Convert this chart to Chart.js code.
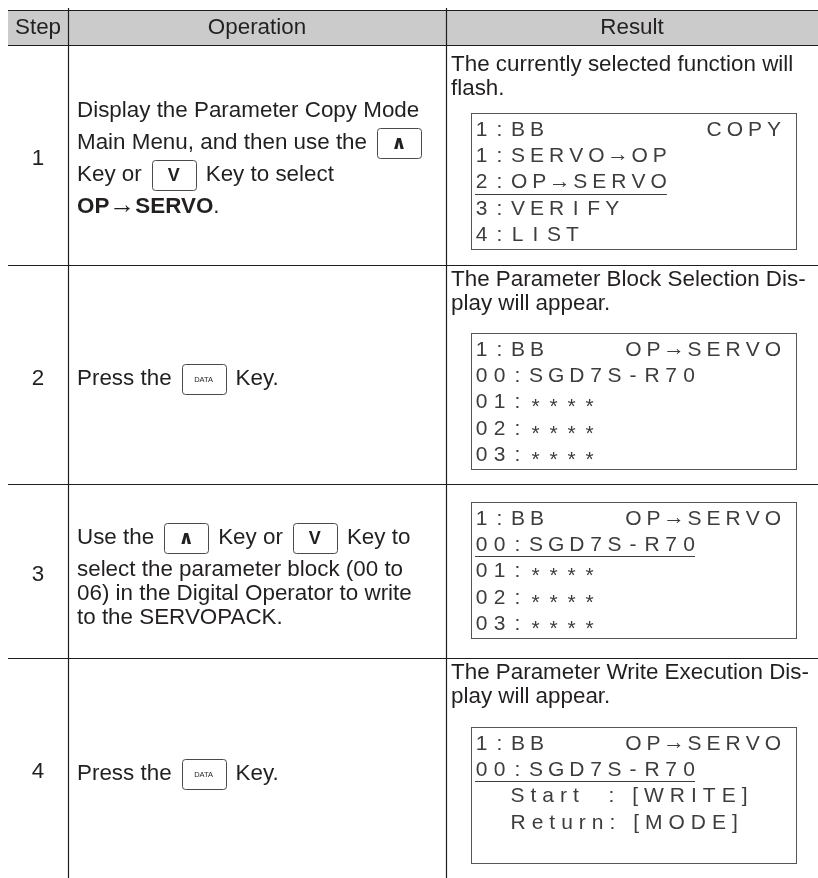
<!DOCTYPE html>
<html>
<head>
<meta charset="utf-8">
<script src="https://cdn.jsdelivr.net/npm/chart.js@4.4.1/dist/chart.umd.min.js"></script>
<style>
html,body{margin:0;padding:0;background:#ffffff;}
canvas{display:block;}
</style>
</head>
<body>
<canvas id="c" width="818" height="878"></canvas>
<script>
// ---------- content ----------
const headers = ["Step", "Operation", "Result"];
const steps = ["1", "2", "3", "4"];
const operations = [
  ["Display the Parameter Copy Mode", "Main Menu, and then use the {UP}", "Key or {DOWN} Key to select", "**OP**→**SERVO**."],
  ["Press the {DATA} Key."],
  ["Use the {UP} Key or {DOWN} Key to", "select the parameter block (00 to", "06) in the Digital Operator to write", "to the SERVOPACK."],
  ["Press the {DATA} Key."]
];
const resultNotes = [
  ["The currently selected function will", "flash."],
  ["The Parameter Block Selection Dis-", "play will appear."],
  [],
  ["The Parameter Write Execution Dis-", "play will appear."]
];
const screens = [
  ["1:BB        COPY", "1:SERVO→OP", "2:OP→SERVO", "3:VERIFY", "4:LIST"],
  ["1:BB    OP→SERVO", "00:SGD7S-R70", "01:****", "02:****", "03:****"],
  ["1:BB    OP→SERVO", "00:SGD7S-R70", "01:****", "02:****", "03:****"],
  ["1:BB    OP→SERVO", "00:SGD7S-R70", "   Start  : [WRITE]", "   Return: [MODE]", ""]
];
const cursorLine = [2, -1, 1, 1];
const keyLabels = { UP: "∧", DOWN: "V", DATA: "DATA" };

// ---------- layout (page units mapped through the chart scales) ----------
const colEdges = [8, 68, 446, 818];
const rowEdges = [10, 45, 265, 484, 658, 878];
const opFirstY = [111, 379, 538, 774];
const noteFirstY = [65, 280, null, 673];
const boxTopY = [113, 333, 502, 727];
const BOX_L = 471, BOX_R = 796, BOX_H = 136;

const BODY = "22.4px 'Liberation Sans', Arial, Helvetica, sans-serif";
const BODY_B = "bold 22.4px 'Liberation Sans', Arial, Helvetica, sans-serif";
const LCD = "21px 'Liberation Sans', Arial, Helvetica, sans-serif";
const ARROW_BODY = "26px 'Liberation Sans', Arial, sans-serif";
const ARROW_LCD = "22px 'Liberation Sans', Arial, sans-serif";
const INK = "#231f20";
const LCD_INK = "#3d3d3d";

const tablePlugin = {
  id: 'operationTable',
  afterDraw(chart) {
    const ctx = chart.ctx;
    const sx = chart.scales.x, sy = chart.scales.y;
    const X = v => sx.getPixelForValue(v);
    const Y = v => sy.getPixelForValue(v);
    ctx.save();

    // header band
    ctx.fillStyle = "#cbcbcb";
    ctx.fillRect(X(colEdges[0]), Y(rowEdges[0]), X(colEdges[3]) - X(colEdges[0]), Y(rowEdges[1]) - Y(rowEdges[0]));

    // grid lines
    ctx.strokeStyle = "#1e1e1e";
    ctx.lineWidth = 1.2;
    rowEdges.slice(0, 5).forEach(r => {
      const y = Math.round(Y(r)) + 0.5;
      ctx.beginPath(); ctx.moveTo(X(colEdges[0]), y); ctx.lineTo(X(colEdges[3]), y); ctx.stroke();
    });
    [colEdges[1], colEdges[2]].forEach(c => {
      const x = Math.round(X(c)) + 0.5;
      ctx.beginPath(); ctx.moveTo(x, Y(rowEdges[0] - 2)); ctx.lineTo(x, Y(rowEdges[5])); ctx.stroke();
    });

    ctx.textBaseline = "middle";
    ctx.fillStyle = INK;

    // header texts
    ctx.font = BODY; ctx.textAlign = "center";
    headers.forEach((h, i) => {
      ctx.fillText(h, (X(colEdges[i]) + X(colEdges[i + 1])) / 2, Y((rowEdges[0] + rowEdges[1]) / 2) + 0.5);
    });

    // key box
    function keyBox(kind, x, y) {
      const w = 44, h = 30;
      ctx.save();
      ctx.strokeStyle = "#4a4a4a"; ctx.lineWidth = 1;
      ctx.beginPath();
      ctx.roundRect(Math.round(x) + 0.5, Math.round(y - h / 2) + 0.5, w, h, 3);
      ctx.stroke();
      ctx.fillStyle = INK; ctx.textAlign = "center"; ctx.textBaseline = "middle";
      if (kind === "UP") { ctx.font = "bold 19px 'DejaVu Sans', sans-serif"; ctx.fillText(keyLabels.UP, x + w / 2, y + 1); }
      else if (kind === "DOWN") { ctx.font = "bold 18px 'Liberation Sans', Arial, sans-serif"; ctx.fillText(keyLabels.DOWN, x + w / 2, y + 1); }
      else { ctx.font = "7.5px 'Liberation Sans', Arial, sans-serif"; ctx.fillText(keyLabels.DATA, x + w / 2, y + 1); }
      ctx.restore();
      return w;
    }

    // rich line with keys and bold parts
    function richLine(line, x, y) {
      const toks = line.split(/(\{UP\}|\{DOWN\}|\{DATA\}|\*\*.+?\*\*|→)/).filter(s => s !== "");
      ctx.textAlign = "left";
      toks.forEach((t, i) => {
        const km = t.match(/^\{(UP|DOWN|DATA)\}$/);
        if (km) { x += 10; x += keyBox(km[1], x, y); x += 10; return; }
        if (t === "→") {
          ctx.font = ARROW_BODY; ctx.fillStyle = INK;
          ctx.fillText(t, x, y - 1);
          x += ctx.measureText(t).width;
          return;
        }
        let bold = false;
        if (/^\*\*.+\*\*$/.test(t)) { bold = true; t = t.slice(2, -2); }
        const prevKey = i > 0 && /^\{/.test(toks[i - 1]);
        const nextKey = i < toks.length - 1 && /^\{/.test(toks[i + 1]);
        if (prevKey) t = t.replace(/^\s+/, "");
        if (nextKey) t = t.replace(/\s+$/, "");
        ctx.font = bold ? BODY_B : BODY;
        ctx.fillStyle = INK;
        ctx.fillText(t, x, y);
        x += ctx.measureText(t).width;
      });
    }

    // LCD character rendering: menu lines sit on a near-fixed pitch,
    // indented message lines use plain letter spacing
    function glyph(ch) {
      ctx.font = ch === "→" ? ARROW_LCD : LCD;
      return ctx.measureText(ch).width;
    }
    function cells(str, x, y, draw, grid) {
      let end = x;
      for (const ch of str) {
        const w = glyph(ch);
        const adv = grid ? Math.min(22, Math.max(18, w + 5)) : w + 6;
        const off = grid ? (adv - 5 - w) / 2 : 0;
        if (draw && ch !== " ") {
          ctx.textAlign = "left";
          ctx.font = ch === "→" ? ARROW_LCD : LCD;
          const dy = ch === "*" ? 5 : (ch === "→" ? -1 : 0);
          ctx.fillText(ch, x + off, y + dy);
        }
        if (ch !== " ") end = x + off + w;
        x += adv;
      }
      return end;
    }
    function lcdLine(line, x, y, xr, underline) {
      ctx.fillStyle = LCD_INK;
      const grid = !/^\s/.test(line);
      const m = line.match(/^(\S.*?)\s{2,}(\S.*)$/);
      let end;
      if (m) {
        cells(m[1], x, y, true, grid);
        const w = cells(m[2], 0, y, false, grid);
        end = cells(m[2], xr - w, y, true, grid);
      } else {
        end = cells(line, x, y, true, grid);
      }
      if (underline && line.trim() !== "") {
        ctx.strokeStyle = LCD_INK; ctx.lineWidth = 1;
        const uy = Math.round(y + 11) + 0.5;
        ctx.beginPath(); ctx.moveTo(x, uy); ctx.lineTo(end, uy); ctx.stroke();
      }
    }

    steps.forEach((s, r) => {
      const top = rowEdges[r + 1], bot = rowEdges[r + 2];
      // step number
      ctx.font = BODY; ctx.textAlign = "center"; ctx.fillStyle = INK;
      ctx.fillText(s, (X(colEdges[0]) + X(colEdges[1])) / 2, Y((top + bot) / 2 + 4));

      // operation text
      let y = opFirstY[r];
      const ops = operations[r];
      ops.forEach((ln, i) => {
        richLine(ln, X(colEdges[1] + 9), Y(y));
        if (i < ops.length - 1) {
          const key = /\{/.test(ln) || /\{/.test(ops[i + 1]);
          y += key ? 32 : 24;
        }
      });

      // result notes
      ctx.font = BODY; ctx.textAlign = "left"; ctx.fillStyle = INK;
      resultNotes[r].forEach((ln, i) => {
        ctx.fillText(ln, X(colEdges[2] + 5), Y(noteFirstY[r] + i * 24));
      });

      // display box
      const bt = boxTopY[r];
      ctx.strokeStyle = "#555555"; ctx.lineWidth = 1;
      ctx.strokeRect(Math.round(X(BOX_L)) + 0.5, Math.round(Y(bt)) + 0.5, X(BOX_R) - X(BOX_L), Y(bt + BOX_H) - Y(bt));
      screens[r].forEach((ln, i) => {
        lcdLine(ln, X(BOX_L + 4), Y(bt + 17 + i * 26.3), X(BOX_R - 15), i === cursorLine[r]);
      });
    });

    ctx.restore();
  }
};

new Chart(document.getElementById('c'), {
  type: 'scatter',
  data: { datasets: [] },
  options: {
    responsive: false,
    animation: false,
    devicePixelRatio: 1,
    events: [],
    layout: { padding: 0 },
    plugins: { legend: { display: false }, tooltip: { enabled: false }, title: { display: false } },
    scales: {
      x: { type: 'linear', min: 0, max: 818, display: false },
      y: { type: 'linear', min: 0, max: 878, reverse: true, display: false }
    }
  },
  plugins: [tablePlugin]
});
</script>
</body>
</html>
